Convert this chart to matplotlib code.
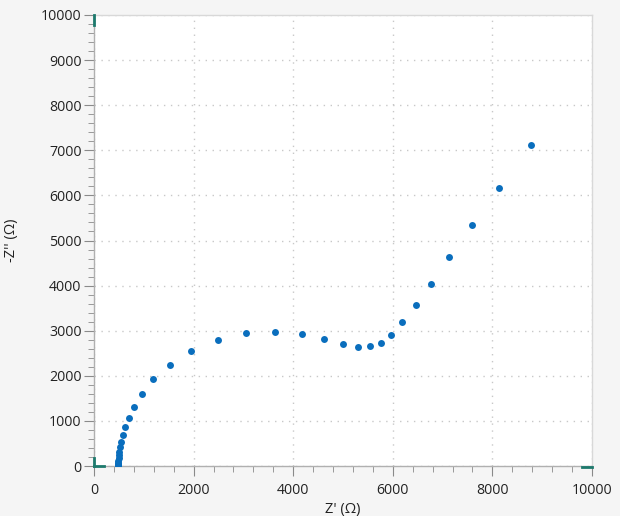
import matplotlib
matplotlib.use("Agg")
import matplotlib.pyplot as plt
from matplotlib.ticker import MultipleLocator

# Data
z_real = [476, 478, 480, 485, 490, 495, 500, 510, 520, 540, 574, 620, 694, 794, 960,
          1194, 1526, 1954, 2480, 3060, 3640, 4180, 4626, 4994, 5294, 5534, 5754,
          5966, 6194, 6466, 6766, 7134, 7594, 8134, 8774]
z_imag = [0, 15, 40, 70, 110, 170, 240, 320, 420, 540, 689, 860, 1067, 1311, 1607,
          1918, 2244, 2555, 2800, 2940, 2978, 2918, 2815, 2704, 2644, 2651, 2733,
          2911, 3184, 3562, 4044, 4629, 5333, 6155, 7118]

xlabel = "Z' (Ω)"
ylabel = "-Z'' (Ω)"

plt.rcParams['font.family'] = ['Open Sans', 'DejaVu Sans']

fig = plt.figure(figsize=(6.2, 5.16), dpi=100, facecolor='#f5f5f5')
ax = fig.add_axes([94/620, 50/516, (592-94)/620, (466-15)/516])
ax.set_facecolor('white')

ax.plot(z_real, z_imag, 'o', color='#0a6ebd', markersize=5, markeredgewidth=0, zorder=3)

ax.set_xlim(0, 10000)
ax.set_ylim(0, 10000)
ax.xaxis.set_major_locator(MultipleLocator(2000))
ax.xaxis.set_minor_locator(MultipleLocator(400))
ax.yaxis.set_major_locator(MultipleLocator(1000))
ax.yaxis.set_minor_locator(MultipleLocator(200))

ax.grid(True, which='major', linestyle=(0, (1, 4)), color='#c8c8c8', linewidth=1.0)

for s in ['top', 'right']:
    ax.spines[s].set_color('#d8d8d8')
for s in ['left', 'bottom']:
    ax.spines[s].set_color('#b0b0b0')
for s in ax.spines.values():
    s.set_linewidth(1.0)

ax.tick_params(which='major', length=7, color='#8a8a8a', labelsize=10.2,
               labelcolor='#222222', pad=2)
ax.tick_params(which='minor', length=4, color='#8a8a8a')
ax.tick_params(axis='x', pad=5)

ax.set_xlabel(xlabel, fontsize=10.5, color='#222222', labelpad=3)
ax.set_ylabel(ylabel, fontsize=10.5, color='#222222', labelpad=16)

# teal corner handles
teal = '#1d7a6d'
ax.plot([0.001, 0.001], [1.0, 0.978], transform=ax.transAxes, color=teal, lw=2, clip_on=False, zorder=5)
ax.plot([0.001, 0.001], [0.0, 0.018], transform=ax.transAxes, color=teal, lw=2, clip_on=False, zorder=5)
ax.plot([0.0, 0.02], [0.0, 0.0], transform=ax.transAxes, color=teal, lw=2, clip_on=False, zorder=5)
ax.plot([0.98, 1.0], [-0.002, -0.002], transform=ax.transAxes, color=teal, lw=2, clip_on=False, zorder=5)

fig.savefig('out.png', dpi=100, facecolor=fig.get_facecolor())
